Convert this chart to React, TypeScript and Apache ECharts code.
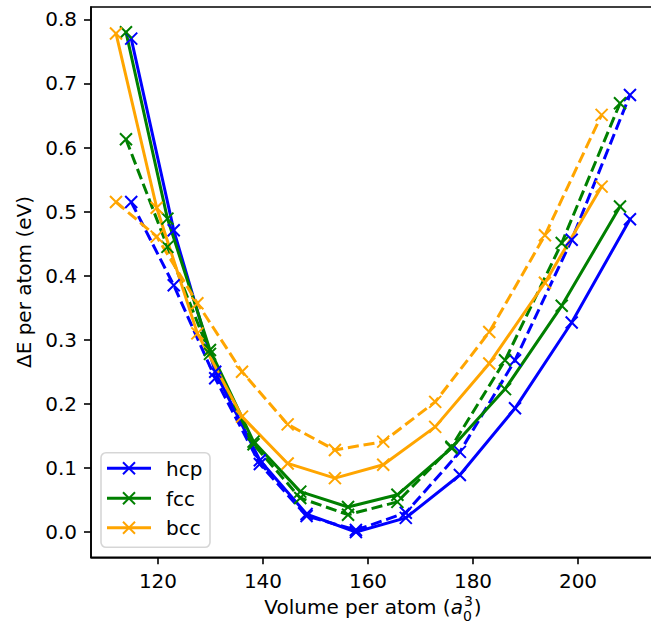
import React, { useEffect, useRef } from "react";
import * as echarts from "echarts";

// ---- data ----
const hcpVolume = [114.9, 123.0, 130.9, 139.4, 148.3, 157.7, 167.2, 177.5, 188.0, 198.8, 209.9];
const fccVolume = [113.9, 121.8, 129.9, 138.2, 147.1, 156.2, 165.6, 175.9, 186.1, 196.9, 208.0];
const bccVolume = [112.0, 119.75, 127.5, 136.0, 144.7, 153.7, 162.9, 172.8, 183.1, 193.7, 204.5];

const hcpSolid = [0.77, 0.471, 0.25, 0.112, 0.028, 0.0, 0.022, 0.089, 0.193, 0.327, 0.488];
const hcpDashed = [0.515, 0.385, 0.24, 0.106, 0.025, 0.003, 0.03, 0.125, 0.268, 0.456, 0.682];
const fccSolid = [0.78, 0.489, 0.284, 0.141, 0.063, 0.039, 0.058, 0.131, 0.223, 0.353, 0.508];
const fccDashed = [0.613, 0.445, 0.278, 0.137, 0.053, 0.027, 0.047, 0.133, 0.268, 0.451, 0.669];
const bccSolid = [0.778, 0.506, 0.31, 0.18, 0.107, 0.084, 0.105, 0.164, 0.263, 0.389, 0.539];
const bccDashed = [0.515, 0.461, 0.357, 0.25, 0.168, 0.128, 0.141, 0.203, 0.312, 0.463, 0.651];

const legendNames = ["hcp", "fcc", "bcc"];
const xTickValues = [120, 140, 160, 180, 200];
const yTickValues = [0, 0.1, 0.2, 0.3, 0.4, 0.5, 0.6, 0.7, 0.8];

// ---- styles ----
const BLUE = "#0000ff";
const GREEN = "#008000";
const ORANGE = "#ffa500";
const FONT = '"DejaVu Sans", sans-serif';
const X_SYMBOL = "path://M0,0L12,12M12,0L0,12";

function measure(text: string, font: string): number {
  const ctx = document.createElement("canvas").getContext("2d")!;
  ctx.font = font;
  return ctx.measureText(text).width;
}

function makeSeries(name: string, vols: number[], vals: number[], color: string, dashed: boolean) {
  return {
    type: "line",
    name,
    data: vols.map((v, i) => [v, vals[i]]),
    symbol: X_SYMBOL,
    symbolSize: 12,
    showSymbol: true,
    showAllSymbol: true,
    silent: true,
    lineStyle: {
      color,
      width: 3,
      type: dashed ? [11.1, 4.8] : "solid",
      join: "round",
      cap: dashed ? "butt" : "square",
    },
    itemStyle: { color, borderColor: color, borderWidth: 2 },
    emphasis: { disabled: true },
  };
}

export default function App() {
  const ref = useRef<HTMLDivElement>(null);

  useEffect(() => {
    const chart = echarts.init(ref.current!, undefined, { renderer: "svg" });

    // x-axis label: "Volume per atom (a_0^3)"
    const fMain = `20px ${FONT}`;
    const fItal = `italic 20px ${FONT}`;
    const fSmall = `14px ${FONT}`;
    const p1 = "Volume per atom (";
    const w1 = measure(p1, fMain);
    const wa = measure("a", fItal);
    const ws = Math.max(measure("3", fSmall), measure("0", fSmall));
    const wc = measure(")", fMain);
    const total = w1 + wa + ws + 2 + wc;
    const cx = 373;
    const x0 = cx - total / 2;
    const baseMid = 607;

    const txt = (text: string, x: number, y: number, font: string, align = "left", extra: any = {}) => ({
      type: "text",
      x,
      y,
      silent: true,
      ...extra,
      style: {
        text,
        font,
        fill: "#000",
        align,
        textAlign: align,
        verticalAlign: "middle",
        textVerticalAlign: "middle",
      },
    });

    const legendColors = [BLUE, GREEN, ORANGE];
    const legendYs = [468.3, 498.3, 527.7];
    const legendEls: any[] = [
      {
        type: "rect",
        silent: true,
        shape: { x: 101, y: 452.7, width: 109, height: 94.6, r: 5 },
        style: { fill: "rgba(255,255,255,0.8)", stroke: "rgba(204,204,204,0.8)", lineWidth: 1.6 },
      },
    ];
    legendNames.forEach((name, i) => {
      const y = legendYs[i];
      const c = legendColors[i];
      legendEls.push({
        type: "line",
        silent: true,
        shape: { x1: 107, y1: y, x2: 151, y2: y },
        style: { stroke: c, lineWidth: 3 },
      });
      legendEls.push({
        type: "line",
        silent: true,
        shape: { x1: 123, y1: y - 6, x2: 135, y2: y + 6 },
        style: { stroke: c, lineWidth: 2 },
      });
      legendEls.push({
        type: "line",
        silent: true,
        shape: { x1: 123, y1: y + 6, x2: 135, y2: y - 6 },
        style: { stroke: c, lineWidth: 2 },
      });
      legendEls.push(txt(name, 166, y + 0.7, fMain));
    });

    const option: any = {
      animation: false,
      backgroundColor: "#fff",
      grid: {
        left: 91,
        top: 7,
        right: -4.7,
        bottom: 65.7,
        show: true,
        borderColor: "#000",
        borderWidth: 1.6,
        backgroundColor: "#fff",
        containLabel: false,
        outerBoundsMode: "none",
      },
      xAxis: {
        type: "value",
        min: 107.24,
        max: 214.8,
        splitLine: { show: false },
        axisLine: { show: true, onZero: false, lineStyle: { color: "#000", width: 1.6 } },
        axisTick: { show: true, length: 7, lineStyle: { color: "#000", width: 1.6 }, customValues: xTickValues },
        axisLabel: {
          customValues: xTickValues,
          margin: 14,
          fontSize: 20,
          fontFamily: FONT,
          color: "#000",
          formatter: (v: number) => String(v),
        },
      },
      yAxis: {
        type: "value",
        min: -0.0395,
        max: 0.8193,
        splitLine: { show: false },
        axisLine: { show: true, onZero: false, lineStyle: { color: "#000", width: 1.6 } },
        axisTick: { show: true, length: 7, lineStyle: { color: "#000", width: 1.6 }, customValues: yTickValues },
        axisLabel: {
          customValues: yTickValues,
          margin: 14,
          fontSize: 20,
          fontFamily: FONT,
          color: "#000",
          formatter: (v: number) => v.toFixed(1),
        },
      },
      series: [
        makeSeries("hcp", hcpVolume, hcpSolid, BLUE, false),
        makeSeries("hcp (dashed)", hcpVolume, hcpDashed, BLUE, true),
        makeSeries("fcc", fccVolume, fccSolid, GREEN, false),
        makeSeries("fcc (dashed)", fccVolume, fccDashed, GREEN, true),
        makeSeries("bcc", bccVolume, bccSolid, ORANGE, false),
        makeSeries("bcc (dashed)", bccVolume, bccDashed, ORANGE, true),
      ],
      graphic: [
        txt("ΔE per atom (eV)", 23.5, 282, fMain, "center", { rotation: Math.PI / 2 }),
        txt(p1, x0, baseMid, fMain),
        txt("a", x0 + w1, baseMid, fItal),
        txt("3", x0 + w1 + wa + 1, 600.5, fSmall),
        txt("0", x0 + w1 + wa, 615.5, fSmall),
        txt(")", x0 + w1 + wa + ws + 2, baseMid, fMain),
        ...legendEls,
      ],
    };

    chart.setOption(option);
    return () => chart.dispose();
  }, []);

  return (
    <div style={{ position: "fixed", left: 0, top: 0, width: 651, height: 623, background: "#fff", overflow: "hidden" }}>
      <div ref={ref} style={{ width: 651, height: 623 }} />
    </div>
  );
}
